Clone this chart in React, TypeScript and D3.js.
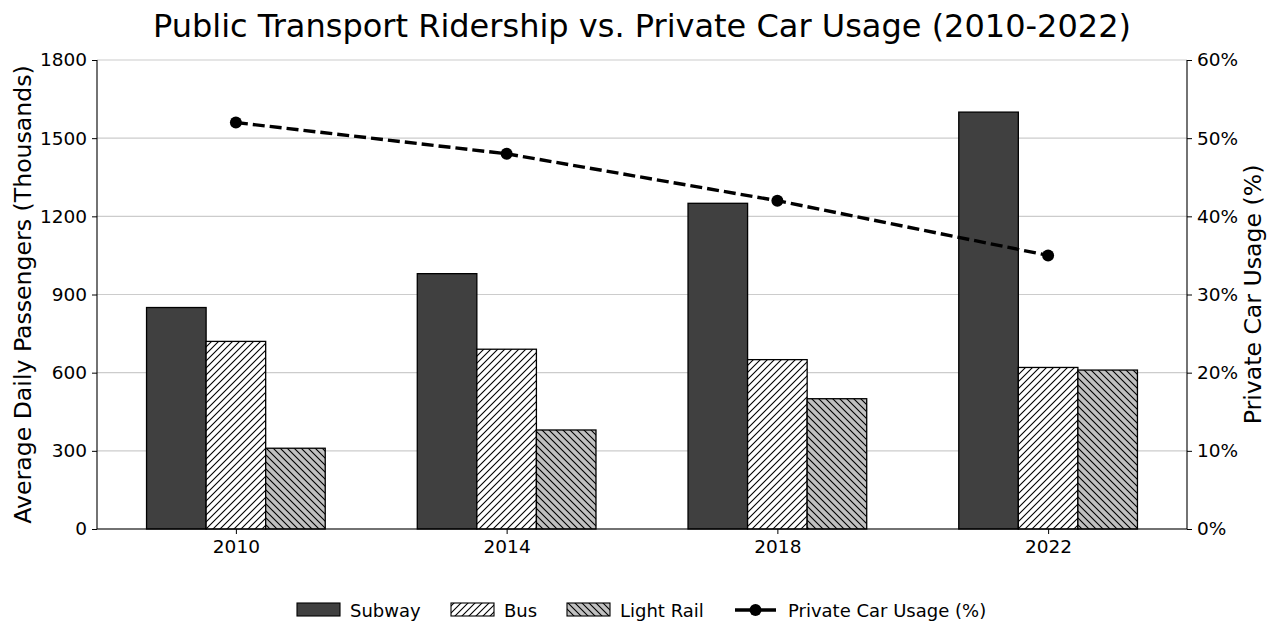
import { useEffect, useRef } from 'react';
import * as d3 from 'd3';

const years = ["2010", "2014", "2018", "2022"];
const subway = [850, 980, 1250, 1600];
const bus = [720, 690, 650, 620];
const lightRail = [310, 380, 500, 610];
const carUsage = [52, 48, 42, 35];
const leftTicks = [0, 300, 600, 900, 1200, 1500, 1800];
const rightTicks = [0, 10, 20, 30, 40, 50, 60];

const W = 1278;
const H = 639;
const font = "'DejaVu Sans', sans-serif";

const App = () => {
  const svgRef = useRef(null);

  useEffect(() => {
    const svg = d3.select(svgRef.current);
    svg.selectAll("*").remove();

    const left = 97, right = 1187, top = 60, bottom = 529;
    const barW = 0.22;

    // positions as numeric index, margins like matplotlib
    const x = d3.scaleLinear().domain([-0.513, 3.513]).range([left, right]);
    const y = d3.scaleLinear().domain([0, 1800]).range([bottom, top]);
    const y2 = d3.scaleLinear().domain([0, 60]).range([bottom, top]);

    const defs = svg.append("defs");
    const pBus = defs.append("pattern").attr("id", "hatchBus")
      .attr("patternUnits", "userSpaceOnUse").attr("width", 7).attr("height", 7);
    pBus.append("rect").attr("width", 7).attr("height", 7).attr("fill", "white");
    pBus.append("path").attr("d", "M-1,1 L1,-1 M0,7 L7,0 M6,8 L8,6")
      .attr("stroke", "black").attr("stroke-width", 1.1);
    const pLr = defs.append("pattern").attr("id", "hatchLr")
      .attr("patternUnits", "userSpaceOnUse").attr("width", 7).attr("height", 7);
    pLr.append("rect").attr("width", 7).attr("height", 7).attr("fill", "#c0c0c0");
    pLr.append("path").attr("d", "M-1,6 L1,8 M0,0 L7,7 M6,-1 L8,1")
      .attr("stroke", "black").attr("stroke-width", 1.1);

    // title
    svg.append("text").attr("x", 642).attr("y", 37).attr("text-anchor", "middle")
      .attr("font-family", font).attr("font-size", 32).text("Public Transport Ridership vs. Private Car Usage (2010-2022)");

    // grid
    svg.append("g").selectAll("line").data(leftTicks).enter().append("line")
      .attr("x1", left).attr("x2", right)
      .attr("y1", d => y(d)).attr("y2", d => y(d))
      .attr("stroke", "#cccccc").attr("stroke-width", 1.1);

    const series = [
      { name: "Subway", values: subway, fill: "#404040", off: -barW },
      { name: "Bus", values: bus, fill: "url(#hatchBus)", off: 0 },
      { name: "Light Rail", values: lightRail, fill: "url(#hatchLr)", off: barW },
    ];

    series.forEach(s => {
      svg.append("g").selectAll("rect").data(s.values).enter().append("rect")
        .attr("x", (d, i) => x(i + s.off - barW / 2))
        .attr("width", x(barW) - x(0))
        .attr("y", d => y(d))
        .attr("height", d => bottom - y(d))
        .attr("fill", s.fill).attr("stroke", "black").attr("stroke-width", 1.3);
    });

    // line
    const line = d3.line<number>().x((d, i) => x(i)).y(d => y2(d));
    svg.append("path").datum(carUsage).attr("d", line).attr("fill", "none")
      .attr("stroke", "black").attr("stroke-width", 3.4).attr("stroke-dasharray", "12,5");
    svg.append("g").selectAll("circle").data(carUsage).enter().append("circle")
      .attr("cx", (d, i) => x(i)).attr("cy", d => y2(d)).attr("r", 6).attr("fill", "black");

    // axes
    const axL = svg.append("g").attr("transform", `translate(${left},0)`)
      .call(d3.axisLeft(y).tickValues(leftTicks).tickFormat(d => `${d}`).tickSize(5).tickPadding(5));
    const axR = svg.append("g").attr("transform", `translate(${right},0)`)
      .call(d3.axisRight(y2).tickValues(rightTicks).tickFormat(d => `${d}%`).tickSize(5).tickPadding(5));
    const axB = svg.append("g").attr("transform", `translate(0,${bottom})`)
      .call(d3.axisBottom(x).tickValues([0, 1, 2, 3]).tickFormat((d, i) => years[i]).tickSize(5).tickPadding(6));
    [axL, axR, axB].forEach(a => {
      a.selectAll("text").attr("font-family", font).attr("font-size", 18.5).attr("fill", "black");
      a.selectAll("line").attr("stroke", "black").attr("stroke-width", 1);
      a.select(".domain").attr("stroke", "black").attr("stroke-width", 1.1);
    });
    axL.select(".domain").attr("d", `M0,${bottom}V${top}`);
    axR.select(".domain").attr("d", `M0,${bottom}V${top}`);
    axB.select(".domain").attr("d", `M${left},0H${right}`);

    // axis labels
    svg.append("text").attr("transform", `translate(31,${(top + bottom) / 2}) rotate(-90)`)
      .attr("text-anchor", "middle").attr("font-family", font).attr("font-size", 23.6)
      .text("Average Daily Passengers (Thousands)");
    svg.append("text").attr("transform", `translate(1261,${(top + bottom) / 2}) rotate(-90)`)
      .attr("text-anchor", "middle").attr("font-family", font).attr("font-size", 23.6)
      .text("Private Car Usage (%)");

    // legend
    const lg = svg.append("g").attr("font-family", font).attr("font-size", 18);
    const ly = 610;
    const patches = [
      { x: 297, fill: "#404040", label: "Subway" },
      { x: 451, fill: "url(#hatchBus)", label: "Bus" },
      { x: 567, fill: "url(#hatchLr)", label: "Light Rail" },
    ];
    patches.forEach(p => {
      lg.append("rect").attr("x", p.x).attr("y", ly - 7).attr("width", 43).attr("height", 13)
        .attr("fill", p.fill).attr("stroke", "black").attr("stroke-width", 1.1);
      lg.append("text").attr("x", p.x + 53).attr("y", ly + 7).text(p.label);
    });
    lg.append("line").attr("x1", 735).attr("x2", 776).attr("y1", ly).attr("y2", ly)
      .attr("stroke", "black").attr("stroke-width", 3.4);
    lg.append("circle").attr("cx", 755.5).attr("cy", ly).attr("r", 6).attr("fill", "black");
    lg.append("text").attr("x", 788).attr("y", ly + 7).text("Private Car Usage (%)");
  }, []);

  return <svg ref={svgRef} width={W} height={H} style={{ display: "block", position: "absolute", left: 0, top: 0 }} />;
};

export default App;
